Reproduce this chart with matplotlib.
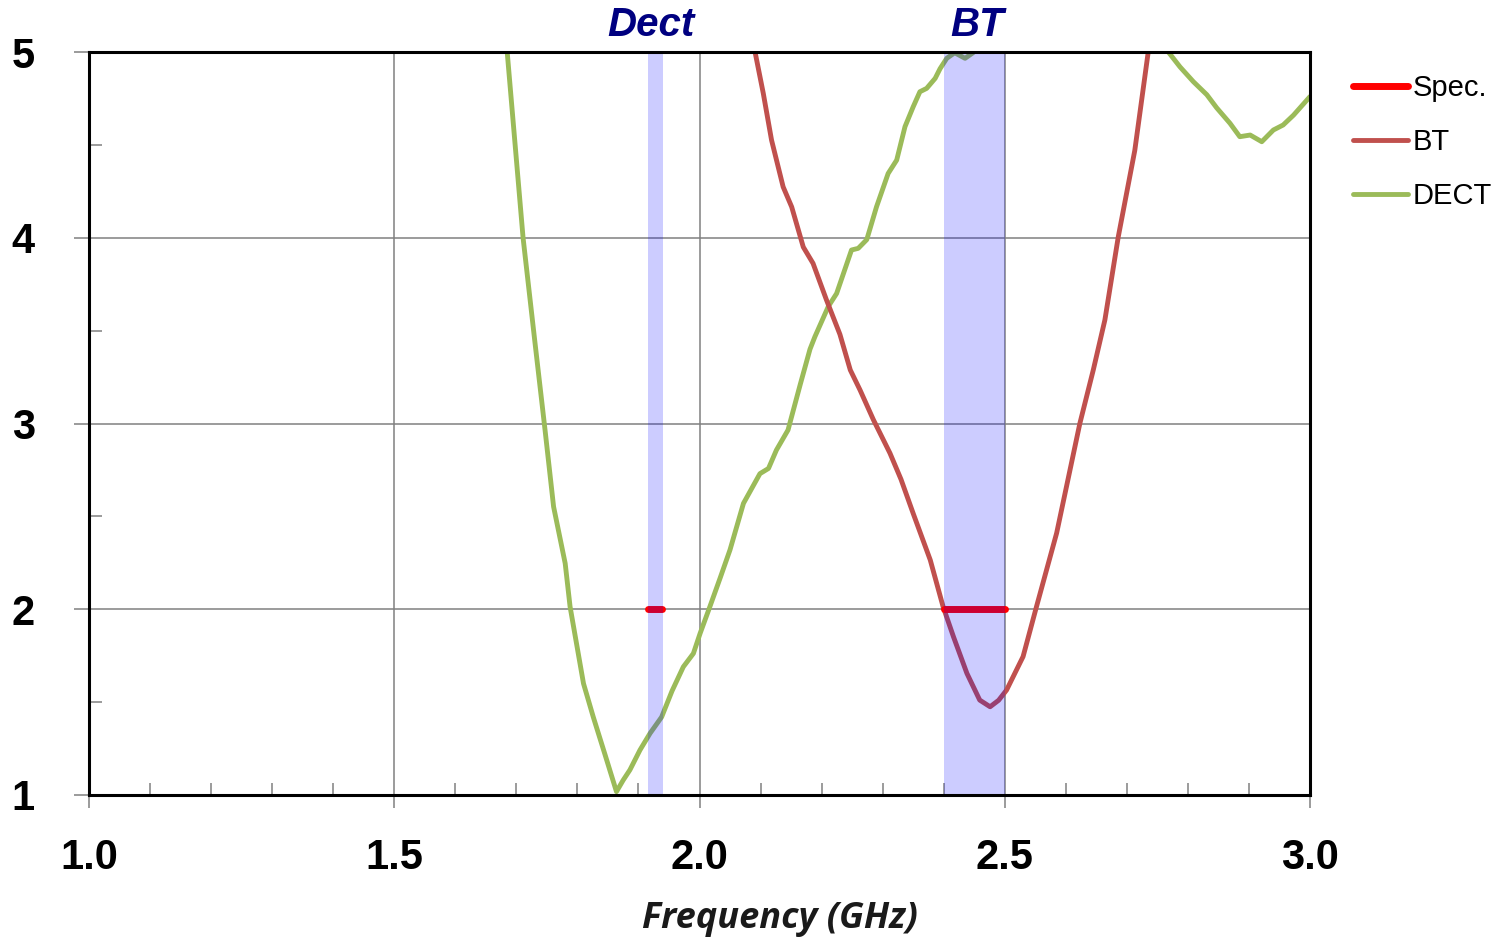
import matplotlib
matplotlib.use("Agg")
import matplotlib.pyplot as plt
from matplotlib.ticker import MultipleLocator, FormatStrFormatter
import matplotlib.transforms as mtransforms

# ---- data ----
dect_freq = [1.685, 1.711, 1.730, 1.747, 1.761, 1.780, 1.788, 1.810, 1.826,
             1.845, 1.864, 1.875, 1.886, 1.9025, 1.919, 1.938, 1.955, 1.9735, 1.990,
             2.001, 2.017, 2.034, 2.050, 2.072, 2.099, 2.113, 2.126, 2.145, 2.165,
             2.181, 2.189, 2.211, 2.2246, 2.249, 2.260, 2.274, 2.290, 2.309, 2.323,
             2.3366, 2.350, 2.361, 2.372, 2.386, 2.394, 2.405, 2.418, 2.435, 2.448,
             2.50, 2.60, 2.70, 2.768, 2.787, 2.809, 2.831, 2.847, 2.869, 2.885,
             2.902, 2.921, 2.940, 2.956, 2.973, 3.0]
dect_vswr = [5.0, 4.0, 3.45, 2.965, 2.552, 2.247, 2.014, 1.60, 1.42,
             1.22, 1.018, 1.08, 1.135, 1.242, 1.332, 1.42, 1.56, 1.69, 1.762,
             1.87, 2.014, 2.17, 2.32, 2.57, 2.73, 2.758, 2.857, 2.965, 3.21,
             3.40, 3.467, 3.63, 3.70, 3.934, 3.943, 3.99, 4.167, 4.346, 4.418,
             4.598, 4.705, 4.786, 4.804, 4.858, 4.91, 4.966, 4.996, 4.966, 4.996,
             5.25, 5.45, 5.25, 5.0, 4.92, 4.84, 4.77, 4.70, 4.616, 4.544,
             4.553, 4.517, 4.58, 4.607, 4.66, 4.76]

bt_freq = [2.091, 2.1045, 2.118, 2.137, 2.151, 2.170, 2.186, 2.208, 2.230, 2.247,
           2.263, 2.285, 2.312, 2.330, 2.350, 2.378, 2.399, 2.416, 2.438, 2.459,
           2.476, 2.490, 2.503, 2.530, 2.552, 2.585, 2.623, 2.645, 2.664, 2.686,
           2.713, 2.735]
bt_vswr = [5.0, 4.777, 4.526, 4.274, 4.166, 3.95, 3.862, 3.665, 3.48, 3.288,
           3.18, 3.019, 2.84, 2.70, 2.516, 2.265, 2.014, 1.852, 1.655, 1.511,
           1.475, 1.51, 1.565, 1.745, 2.014, 2.41, 3.0, 3.288, 3.557, 4.006,
           4.47, 5.0]

spec_dect_freq = [1.916, 1.938]
spec_bt_freq = [2.40, 2.50]
spec_level = 2.0

band_dect = (1.915, 1.940)
band_bt = (2.40, 2.50)

band_labels = ["Dect", "BT"]
band_label_x = [1.920, 2.455]

x_ticks = [1.0, 1.5, 2.0, 2.5, 3.0]
y_ticks = [1, 2, 3, 4, 5]
legend_labels = ["Spec.", "BT", "DECT"]

# ---- figure ----
W, H = 1504, 941
fig = plt.figure(figsize=(W / 100, H / 100), dpi=100)
ax = fig.add_axes([89 / W, 1 - 795 / H, (1310 - 89) / W, (795 - 52) / H])

green = "#9BBB59"
red = "#C0504D"
spec_red = "#FF0000"
gray = "#808080"

ax.set_xlim(1.0, 3.0)
ax.set_ylim(1, 5)

ln_dect, = ax.plot(dect_freq, dect_vswr, color=green, lw=3.5, zorder=3,
                   solid_joinstyle="round", solid_capstyle="round")
ln_bt, = ax.plot(bt_freq, bt_vswr, color=red, lw=3.5, zorder=3,
                 solid_joinstyle="round", solid_capstyle="round")
ln_spec, = ax.plot(spec_dect_freq, [spec_level] * 2, color=spec_red, lw=5,
                   zorder=3, solid_capstyle="round")
ax.plot(spec_bt_freq, [spec_level] * 2, color=spec_red, lw=5, zorder=3,
        solid_capstyle="round")

for b in (band_dect, band_bt):
    ax.axvspan(b[0], b[1], color="#0000FF", alpha=0.2, lw=0, zorder=4)

# grid
ax.set_axisbelow(True)
ax.grid(True, which="major", color=gray, lw=1.1)

# ticks
ax.set_xticks(x_ticks)
ax.set_yticks(y_ticks)
ax.xaxis.set_minor_locator(MultipleLocator(0.1))
ax.yaxis.set_minor_locator(MultipleLocator(0.5))
ax.xaxis.set_major_formatter(FormatStrFormatter("%.1f"))
ax.yaxis.set_major_formatter(FormatStrFormatter("%d"))
ax.tick_params(axis="x", which="major", direction="out", length=9, width=1.1,
               color=gray, pad=22, labelsize=30)
ax.tick_params(axis="y", which="major", direction="out", length=11, width=1.1,
               color=gray, pad=28, labelsize=30)
ax.tick_params(axis="both", which="minor", direction="in", length=9, width=1.1,
               color=gray)
for lab in ax.get_xticklabels() + ax.get_yticklabels():
    lab.set_fontfamily("Liberation Sans")
    lab.set_fontweight("bold")

for s in ax.spines.values():
    s.set_color("black")
    s.set_linewidth(2.2)
    s.set_zorder(5)

# band labels above axes
trans = mtransforms.blended_transform_factory(ax.transData, ax.transAxes)
for lbl, xl in zip(band_labels, band_label_x):
    ax.text(xl, 1.0 + 27 / 743, lbl, transform=trans, ha="center", va="center",
            fontsize=29, fontweight="bold", fontstyle="italic",
            fontfamily="Liberation Sans", color="#000080")

# x axis label
fig.text(780 / W, 1 - 919 / H, "Frequency (GHz)", ha="center", va="center",
         fontsize=26, fontweight="bold", fontstyle="italic",
         fontfamily="Open Sans", color="#1a1a1a")

# legend
leg = fig.legend([ln_spec, ln_bt, ln_dect], legend_labels,
                 loc="upper left", bbox_to_anchor=(1353 / W, 1 - 74 / H),
                 frameon=False, handlelength=1.9,
                 handletextpad=0.15, labelspacing=0.9, borderpad=0,
                 borderaxespad=0, prop={"family": "Liberation Sans", "size": 21})

fig.savefig("out.png", dpi=100)
